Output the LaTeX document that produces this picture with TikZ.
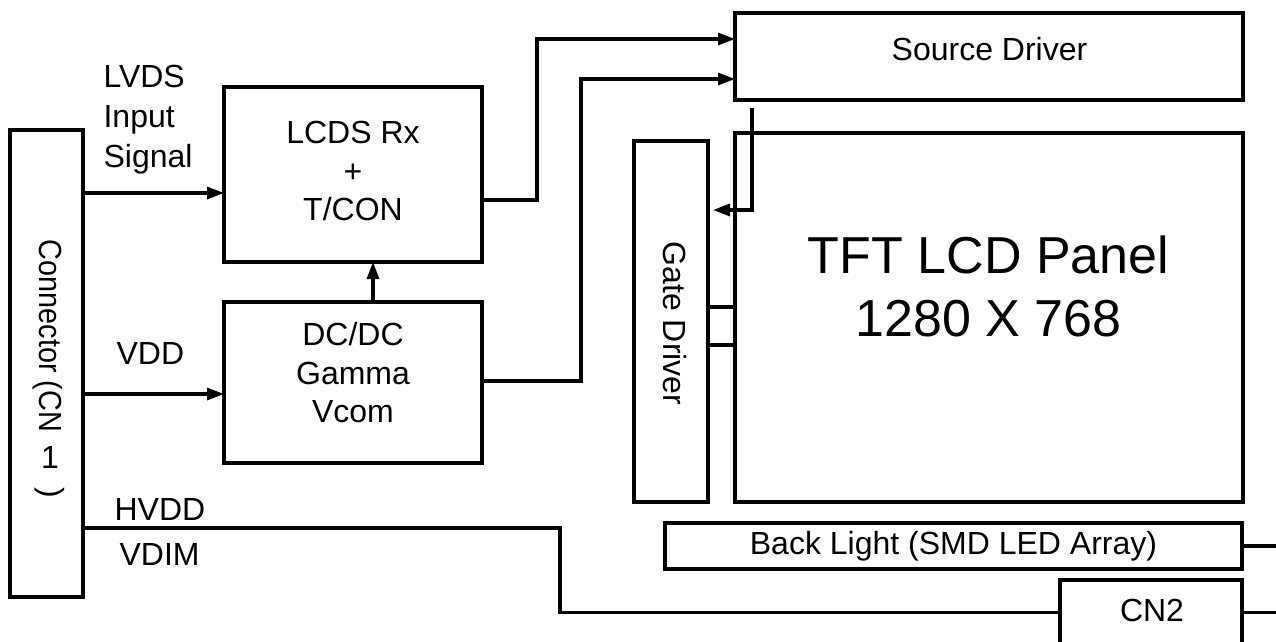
\documentclass[tikz,border=0pt]{standalone}
\usepackage{fontspec}
\setmainfont{Liberation Sans}
\newfontfamily\condfont[FakeStretch=0.9]{Liberation Sans}
\usetikzlibrary{arrows.meta}
\begin{document}
\begin{tikzpicture}[x=1pt,y=-1pt, line width=3.2pt,
  box/.style={draw, rectangle, inner sep=0pt, outer sep=0pt},
  txt/.style={font=\fontsize{32}{38.5}\selectfont, inner sep=0pt, align=center},
  arr/.style={-{Triangle[length=17pt,width=12pt]}}
]
\useasboundingbox (0,0) rectangle (1276,641);
\clip (0,0) rectangle (1276,641);

% boxes
\node[box, minimum width=73pt, minimum height=467pt] (conn) at (46.5,363.5) {};
\node[box, minimum width=258pt, minimum height=175pt] (lcds) at (353,174.5) {};
\node[box, minimum width=258pt, minimum height=161pt] (dcdc) at (353,382.5) {};
\node[box, minimum width=508pt, minimum height=87pt] (src) at (989,56.5) {};
\node[box, minimum width=74pt, minimum height=361pt] (gate) at (671,321.5) {};
\node[box, minimum width=508pt, minimum height=369pt] (panel) at (989,317.5) {};
\node[box, txt, minimum width=577pt, minimum height=46pt] (back) at (953.5,546) {Back Light (SMD LED Array)};
\node[box, minimum width=182pt, minimum height=65pt] (cn2) at (1151,612.5) {};

% texts
\node[txt] (tlcds) at (353,171) {LCDS Rx\\+\\T/CON};
\node[txt] (tdcdc) at (353,373) {DC/DC\\Gamma\\Vcom};
\node[txt] (tsrc) at (989.5,49.5) {Source Driver};
\node[txt, font=\fontsize{52}{63}\selectfont] (tpanel) at (988.5,286) {TFT LCD Panel\\1280 X 768};
\node[txt, rotate=-90] (tgate) at (674.5,323.5) {Gate Driver};
\node[txt, rotate=-90, font=\condfont\fontsize{32}{38}\selectfont] (tconn) at (48,336) {Connector (CN};
\node[txt] (tone) at (50,457) {1};
\node[txt, rotate=-90] (tclose) at (50,493) {)};
\node[txt, align=left, anchor=base west, font=\fontsize{32}{40}\selectfont] (tlvds) at (102,167) {LVDS\\Input\\Signal};
\node[txt, anchor=base west] (tvdd) at (115,364) {VDD};
\node[txt, anchor=base west] (thvdd) at (113,520) {HVDD};
\node[txt, anchor=base west] (tvdim) at (118,565) {VDIM};
\node[txt] (tcn2) at (1152,610) {CN2};

% connectors
\draw[arr] (conn.east |- 0,193) -- (lcds.west |- 0,193);
\draw[arr] (conn.east |- 0,394) -- (dcdc.west |- 0,394);
\draw[arr] (dcdc.north -| 373,0) -- (lcds.south -| 373,0);
\draw[arr] (lcds.east |- 0,200) -| (537,39) -- (src.west |- 0,39);
\draw[arr] (dcdc.east |- 0,381) -| (581,79) -- (src.west |- 0,79);
\draw[arr, shorten <=8pt, shorten >=5pt] (src.south -| 752,0) |- (gate.east |- 0,210);
\draw (gate.east |- 0,307) -- (panel.west |- 0,307);
\draw (gate.east |- 0,345) -- (panel.west |- 0,345);
\draw (conn.east |- 0,528) -| (560,612.5) -- (cn2.west);
\coordinate (blend) at (1276,546);
\coordinate (cnend) at (1276,612.5);
\draw (back.east) -- (blend);
\draw (cn2.east) -- (cnend);
\end{tikzpicture}
\end{document}
